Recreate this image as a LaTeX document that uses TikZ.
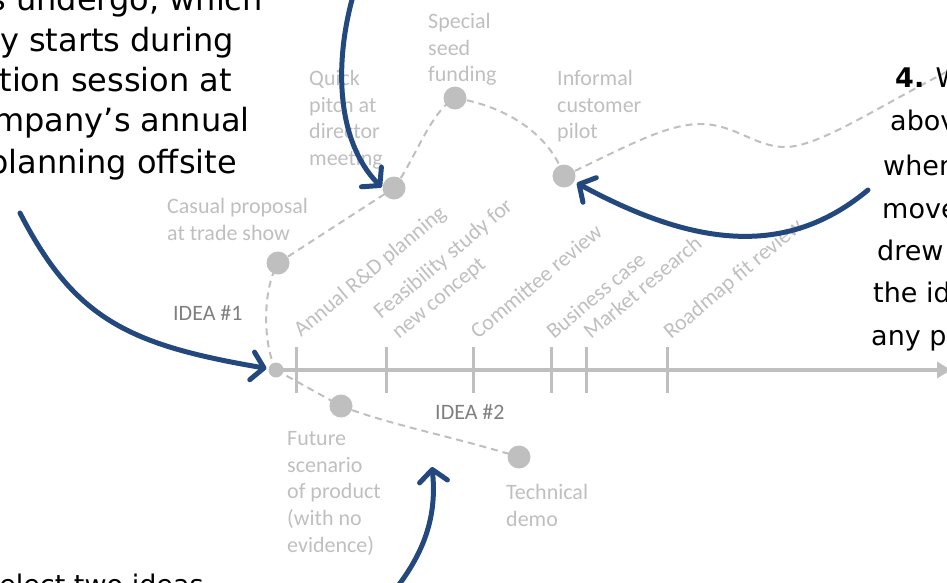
\documentclass[tikz,border=0pt]{standalone}
\usepackage{fontspec}
\setmainfont{Carlito}
\newfontfamily\handfont{DejaVu Sans}
\usetikzlibrary{arrows.meta,backgrounds,calc}
\definecolor{lgrey}{HTML}{BFBFBF}
\definecolor{dgrey}{HTML}{7F7F7F}
\definecolor{arrowblue}{RGB}{35,72,125}
\tikzset{
  stagedot/.style={circle, fill=lgrey, inner sep=0pt, minimum size=23pt},
  origindot/.style={circle, fill=lgrey, inner sep=0pt, minimum size=15pt},
  glabel/.style={text=lgrey, font=\fontsize{22}{26.7}\selectfont, inner sep=0pt, align=left, anchor=north west},
  idealabel/.style={text=dgrey, font=\fontsize{22}{26.7}\selectfont, inner sep=0pt, anchor=north west},
  stagelabel/.style={text=lgrey, font=\fontsize{22}{26.7}\selectfont, inner sep=0pt, anchor=base west, rotate=40},
  trail/.style={draw=lgrey, line width=2pt, dash pattern=on 7pt off 5pt},
  timeline/.style={draw=lgrey, line width=4pt, -{Triangle[length=14pt,width=16pt]}},
  tickmark/.style={draw=lgrey, line width=3pt},
  callout/.style={draw=arrowblue, line width=5pt, line cap=round, -{Straight Barb[length=12pt,width=28pt,round]}},
  handL/.style={font=\handfont\fontsize{32}{40}\selectfont, inner sep=0pt, text=black, anchor=base east},
  handR/.style={font=\handfont\fontsize{27}{40}\selectfont, inner sep=0pt, text=black, anchor=base west},
}
\begin{document}
\begin{tikzpicture}[x=1pt, y=-1pt]
\useasboundingbox (0,0) rectangle (947,582);
\clip (0,0) rectangle (947,582);

% tick positions
\coordinate (t1) at (296,370);
\coordinate (t2) at (386,370);
\coordinate (t3) at (473,370);
\coordinate (t4) at (551,370);
\coordinate (t5) at (586,370);
\coordinate (t6) at (667,370);
\coordinate (tlend) at (951,370);
\coordinate (trailend) at (962,64);

% dots
\node[origindot] (o1) at (276,370) {};
\node[stagedot] (casual) at (278,263) {};
\node[stagedot] (quick) at (394,188) {};
\node[stagedot] (special) at (455,98) {};
\node[stagedot] (informal) at (564,176) {};
\node[stagedot] (future) at (341,406) {};
\node[stagedot] (tech) at (519,457) {};

\begin{scope}[on background layer]
  \draw[timeline] (o1.center) -- (tlend);
  \foreach \t in {t1,t2,t3,t4,t5,t6}
    \draw[tickmark] ($(\t)+(0,-23)$) -- ($(\t)+(0,23)$);
  \draw[trail] (o1.center) .. controls (263,345) and (262,290) .. (casual.center);
  \draw[trail] (casual.center) -- (quick.center);
  \draw[trail] (quick.center) .. controls (415,160) and (430,112) .. (special.center);
  \draw[trail] (special.center) .. controls (500,105) and (548,130) .. (informal.center);
  \draw[trail] (informal.center) .. controls (620,150) and (665,124) .. (700,124)
     .. controls (735,124) and (755,147) .. (785,147)
     .. controls (820,147) and (880,105) .. (trailend);
  \draw[trail] (o1.center) -- (future.center);
  \draw[trail] (future.center) .. controls (390,425) and (455,437) .. (tech.center);
\end{scope}

% grey labels
\node[glabel] (tspecial) at (428,13) {Special\\seed\\funding};
\node[glabel] (tquick) at (309,70) {Quick\\pitch at\\director\\meeting};
\node[glabel] (tinformal) at (557,70) {Informal\\customer\\pilot};
\node[glabel] (tcasual) at (167,198) {Casual proposal\\at trade show};
\node[idealabel] (idea1) at (173,305) {IDEA \#1};
\node[glabel] (tfuture) at (287,431) {Future\\scenario\\of product\\(with no\\evidence)};
\node[idealabel] (idea2) at (435,404) {IDEA \#2};
\node[glabel] (ttech) at (506,484) {Technical\\demo};

% stage labels
\node[stagelabel] (s1) at ($(t1)+(5,-32)$) {Annual R\&D planning};
\node[stagelabel] (s2a) at ($(t2)+(-5,-50)$) {Feasibility study for};
\node[stagelabel] (s2b) at ($(t2)+(13,-30)$) {new concept};
\node[stagelabel] (s3) at ($(t3)+(5,-30)$) {Committee review};
\node[stagelabel] (s4) at ($(t4)+(3,-30)$) {Business case};
\node[stagelabel] (s5) at ($(t5)+(5,-30)$) {Market research};
\node[stagelabel] (s6) at ($(t6)+(4,-30)$) {Roadmap fit review};

% handwritten notes
\node[handL] (l1) at (263,10) {ideas undergo, which};
\node[handL] (l2) at (234,51) {typically starts during};
\node[handL] (l3) at (232,91) {an ideation session at};
\node[handL] (l4) at (250,131) {the company’s annual};
\node[handL] (l5) at (237,173) {planning offsite};
\node[handR] (r1) at (895,87) {\textbf{4.} When};
\node[handR] (r2) at (890,130) {above};
\node[handR] (r3) at (883,175) {when};
\node[handR] (r4) at (882,218) {moved};
\node[handR] (r5) at (877,260) {drew};
\node[handR] (r6) at (873,302) {the idea};
\node[handR] (r7) at (871,345) {any point};
\node[handR] (b1) at (-15,594) {select two ideas};

% blue callout arrows
\coordinate (a1s) at (20,213);
\coordinate (a2s) at (353,-4);
\coordinate (a3s) at (868,190);
\coordinate (a4s) at (398,586);
\coordinate (a4e) at (432,467);
\draw[callout, shorten >=2pt] (a1s) .. controls (75,320) and (130,345) .. (o1);
\draw[callout, shorten >=1pt] (a2s) .. controls (335,60) and (335,140) .. (quick.west);
\draw[callout, shorten >=3pt] (a3s) .. controls (790,255) and (700,250) .. (informal);
\draw[callout] (a4s) .. controls (425,550) and (437,515) .. (a4e);
\end{tikzpicture}
\end{document}
